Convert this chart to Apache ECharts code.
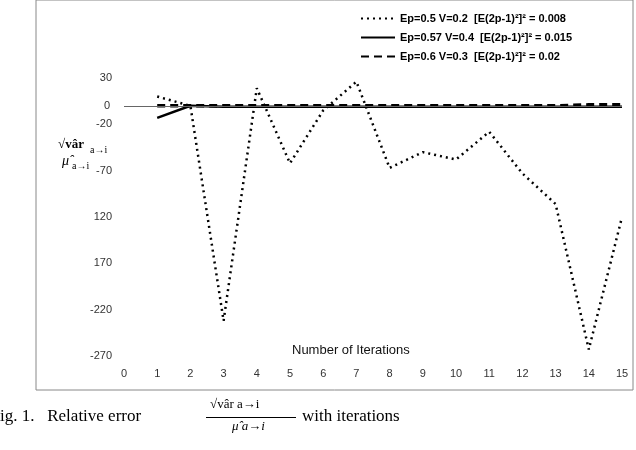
<!DOCTYPE html>
<html><head><meta charset="utf-8">
<script src="https://cdn.jsdelivr.net/npm/echarts@6/dist/echarts.min.js"></script>
<style>body{margin:0;background:#fff}#c{width:636px;height:450px}</style>
</head><body><div id="c"></div>
<script>
var iterations = [1, 2, 3, 4, 5, 6, 7, 8, 9, 10, 11, 12, 13, 14, 15];
var ep05 = [10, 0, -232, 19, -62, -5, 26, -67, -50, -58, -28, -73, -106, -263, -120];
var ep057 = [-13, 0, -1, -1, -1, -1, -1, -1, -1, -1, -1, -1, -1, -1, -1];
var ep06 = [0, 0, 0, 0, 0, 0, 0, 0, 0, 0, 0, 0, 0, 1, 1];
var names = ['Ep=0.5 V=0.2  [E(2p-1)\u00b2]\u00b2 = 0.008',
             'Ep=0.57 V=0.4  [E(2p-1)\u00b2]\u00b2 = 0.015',
             'Ep=0.6 V=0.3  [E(2p-1)\u00b2]\u00b2 = 0.02'];
var yLabels = {'30': '30', '-20': '-20', '-70': '-70', '-120': '120', '-170': '170', '-220': '-220', '-270': '-270'};

function pairs(vals) {
    var out = [];
    for (var i = 0; i < vals.length; i++) out.push([iterations[i], vals[i]]);
    return out;
}
var font = 'Liberation Sans';
var chart = echarts.init(document.getElementById('c'));
chart.setOption({
    animation: false,
    textStyle: { fontFamily: font },
    grid: { left: 124, right: 14, top: 78, bottom: 94 },
    legend: {
        orient: 'vertical', left: 355, top: 8, itemGap: 8, itemWidth: 34, itemHeight: 10,
        itemStyle: { color: 'transparent', borderWidth: 0 },
        textStyle: { fontSize: 11, fontWeight: 'bold', color: '#000' },
        data: names
    },
    xAxis: {
        type: 'value', min: 0, max: 15, interval: 1,
        axisLine: { show: false }, axisTick: { show: false }, splitLine: { show: false },
        axisLabel: { color: '#333', fontSize: 11, margin: 12 }
    },
    yAxis: {
        type: 'value', min: -270, max: 30, interval: 50,
        axisLine: { show: false }, axisTick: { show: false }, splitLine: { show: false },
        axisLabel: { color: '#333', fontSize: 11, margin: 12, formatter: function (v) { return yLabels[String(v)] || ''; } }
    },
    series: [
        { name: names[0], type: 'line', data: pairs(ep05), symbol: 'none', z: 3,
          lineStyle: { color: '#000', width: 2.5, type: [2, 4] }, itemStyle: { color: '#000' },
          markLine: { silent: true, symbol: 'none', data: [{ yAxis: 0 }],
              lineStyle: { color: '#666', width: 1, type: 'solid' },
              label: { position: 'start', formatter: '0', color: '#333', fontSize: 11, distance: 14 } } },
        { name: names[1], type: 'line', data: pairs(ep057), symbol: 'none',
          lineStyle: { color: '#000', width: 2.5 }, itemStyle: { color: '#000' } },
        { name: names[2], type: 'line', data: pairs(ep06), symbol: 'none',
          lineStyle: { color: '#000', width: 3.5, type: [8, 5] }, itemStyle: { color: '#000' } }
    ],
    graphic: [
        { type: 'rect', shape: { x: 36, y: 0, width: 597, height: 390 }, style: { fill: 'none', stroke: '#888', lineWidth: 1 } },
        { type: 'text', left: 292, top: 344, style: { text: 'Number of Iterations', font: '13px ' + font, fill: '#111' } },
        { type: 'text', left: 58, top: 138, style: { text: '\u221avâr', font: 'bold 13px serif', fill: '#000' } },
        { type: 'text', left: 90, top: 145, style: { text: 'a\u2192i', font: '10px serif', fill: '#000' } },
        { type: 'text', left: 62, top: 154, style: { text: 'μ̂', font: 'italic 14px serif', fill: '#000' } },
        { type: 'text', left: 72, top: 161, style: { text: 'a\u2192i', font: '10px serif', fill: '#000' } },
        { type: 'text', left: 0, top: 408, style: { text: 'ig. 1.   Relative error', font: '17px "Liberation Serif"', fill: '#000' } },
        { type: 'text', left: 210, top: 398, style: { text: '\u221avâr a\u2192i', font: '13px "Liberation Serif"', fill: '#000' } },
        { type: 'rect', shape: { x: 206, y: 417, width: 90, height: 1 }, style: { fill: '#000' } },
        { type: 'text', left: 232, top: 420, style: { text: 'μ̂ a\u2192i', font: 'italic 13px "Liberation Serif"', fill: '#000' } },
        { type: 'text', left: 302, top: 408, style: { text: 'with iterations', font: '17px "Liberation Serif"', fill: '#000' } }
    ]
});
</script></body></html>
